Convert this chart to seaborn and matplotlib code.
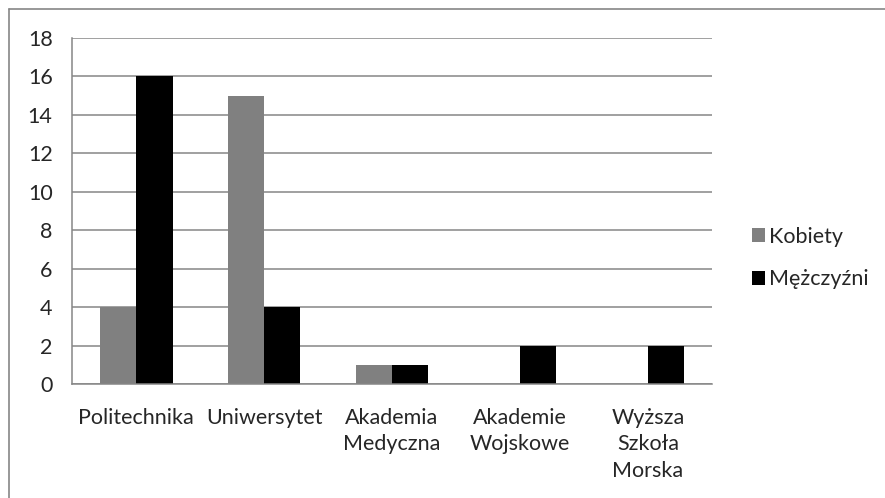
import pandas as pd
import seaborn as sns
import matplotlib.pyplot as plt
from matplotlib.lines import Line2D
from matplotlib.patches import Patch

uczelnie = ["Politechnika", "Uniwersytet", "Akademia\nMedyczna", "Akademie\nWojskowe", "Wyższa\nSzkoła\nMorska"]
kobiety = [4, 15, 1, 0, 0]
mezczyzni = [16, 4, 1, 2, 2]
y_ticks = [0, 2, 4, 6, 8, 10, 12, 14, 16, 18]

df = pd.DataFrame({
    "uczelnia": uczelnie * 2,
    "liczba": kobiety + mezczyzni,
    "plec": ["Kobiety"] * len(uczelnie) + ["Mężczyźni"] * len(uczelnie),
})

sns.set_style("white")
plt.rcParams["font.family"] = ["Lato", "DejaVu Sans"]
fs = 15.5

grey = "#868686"
palette = {"Kobiety": "#808080", "Mężczyźni": "#000000"}

fig = plt.figure(figsize=(8.85, 4.98), dpi=100)
ax = fig.add_axes([0.0814, 0.229, 0.7231, 0.6947])

sns.barplot(data=df, x="uczelnia", y="liczba", hue="plec", palette=palette,
            width=0.57, gap=0, saturation=1, linewidth=0, ax=ax, legend=False)

ax.set_xlim(-0.5, len(uczelnie) - 0.5)
ax.set_ylim(0, 18)
ax.set_yticks(y_ticks)
ax.yaxis.grid(True, color=grey, linewidth=1.1)
ax.set_axisbelow(True)
ax.set_xlabel("")
ax.set_ylabel("")

for side in ["top", "right"]:
    ax.spines[side].set_visible(False)
for side in ["left", "bottom"]:
    ax.spines[side].set_color(grey)
    ax.spines[side].set_linewidth(1.1)

# category separators below the axis
ax.set_xticks([i - 0.5 for i in range(len(uczelnie) + 1)], minor=True)
ax.tick_params(axis="x", which="minor", length=5, color=grey, width=1.1, direction="out")
ax.tick_params(axis="x", which="major", length=0, pad=17, labelsize=fs)
ax.tick_params(axis="y", length=5, color=grey, width=1.1, direction="out", pad=9, labelsize=fs)
for lbl in ax.get_xticklabels():
    lbl.set_linespacing(1.42)
    lbl.set_verticalalignment("top")

handles = [Patch(facecolor=palette[k], edgecolor="none") for k in palette]
fig.legend(handles, list(palette), loc="center left", bbox_to_anchor=(0.828, 0.482),
           frameon=False, handlelength=0.6, handleheight=0.6, handletextpad=0.2,
           labelspacing=1.05, fontsize=fs)

# chart area frame (only top and left edges are visible)
fig.add_artist(Line2D([0.0102, 1.0], [0.982, 0.982], transform=fig.transFigure, color=grey, linewidth=1.2))
fig.add_artist(Line2D([0.0102, 0.0102], [0.0, 0.982], transform=fig.transFigure, color=grey, linewidth=1.2))

fig.savefig("out.png", dpi=100)
